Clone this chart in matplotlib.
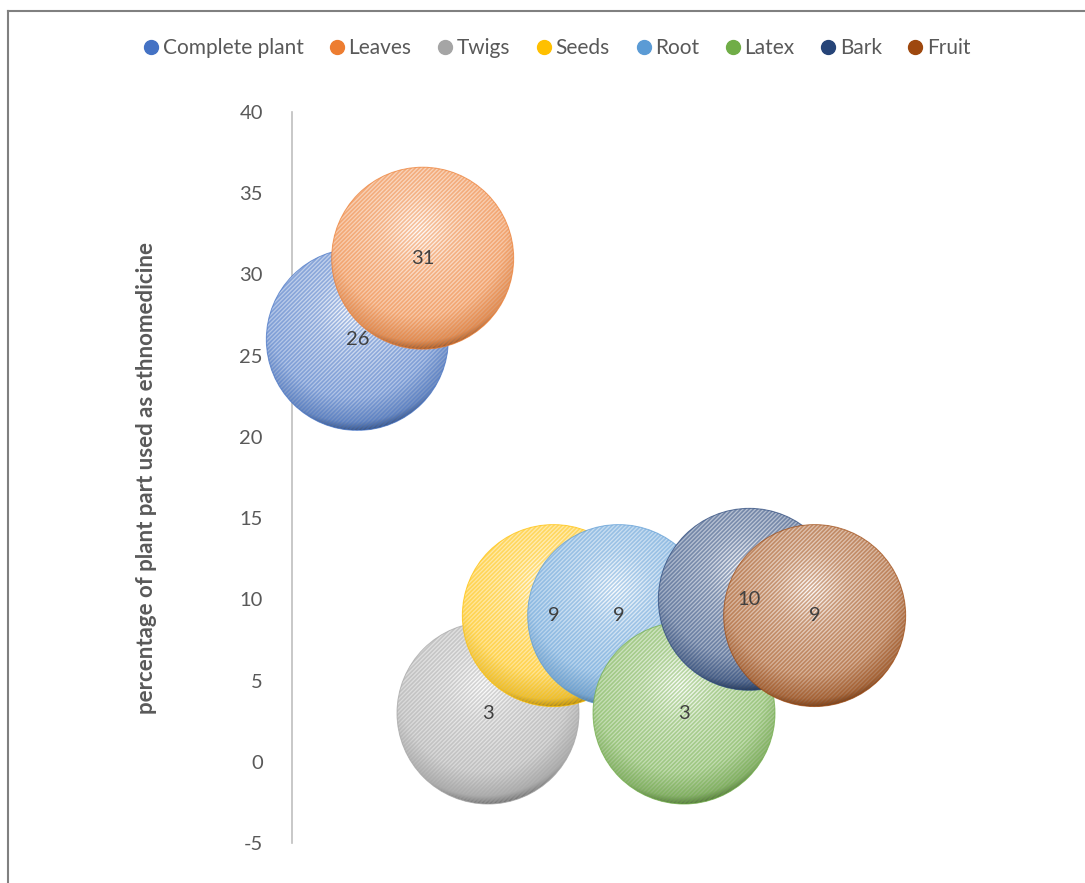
import numpy as np
import matplotlib
matplotlib.use("Agg")
import matplotlib.pyplot as plt
from matplotlib.patches import Ellipse
from matplotlib.lines import Line2D
from matplotlib.colors import to_rgb

plt.rcParams['font.family'] = ['Lato', 'DejaVu Sans']
plt.rcParams['axes.unicode_minus'] = False
plt.rcParams['hatch.linewidth'] = 1.2

# Datos de la grafica (porcentaje por parte de la planta)
partes = ['Complete plant', 'Leaves', 'Twigs', 'Seeds', 'Root', 'Latex', 'Bark', 'Fruit']
posicion_x = [1, 2, 3, 4, 5, 6, 7, 8]
porcentaje = [26, 31, 3, 9, 9, 3, 10, 9]
colores = ['#4472C4', '#ED7D31', '#A5A5A5', '#FFC000', '#5B9BD5', '#70AD47', '#264478', '#9E480E']
yticks = [-5, 0, 5, 10, 15, 20, 25, 30, 35, 40]

gris_texto = '#595959'
radio_px = 91  # radio de cada burbuja en pixeles

fig = plt.figure(figsize=(10.85, 8.83), dpi=100)
ax = fig.add_axes([292 / 1085, 1 - 843 / 883, (880 - 292) / 1085, (843 - 112) / 883])
ax.set_xlim(0, 9)
ax.set_ylim(-5, 40)

# Conversion de pixeles a unidades de datos
bbox = ax.get_window_extent()
px_x = bbox.width / 9
px_y = bbox.height / 45
w = 2 * radio_px / px_x
h = 2 * radio_px / px_y

# Gradiente tipo esfera
n = 200
u, v = np.meshgrid(np.linspace(-1, 1, n), np.linspace(-1, 1, n))
d = np.sqrt((u + 0.05) ** 2 + (v - 0.3) ** 2) / 1.35
d = np.clip(d, 0, 1)


def esfera(color):
    base = np.array(to_rgb(color))
    blanco = np.ones(3)
    puntos = [0.0, 0.3, 0.7, 0.9, 1.0]
    cols = [blanco, 0.25 * base + 0.75 * blanco, 0.42 * base + 0.58 * blanco,
            0.6 * base + 0.3 * blanco, base * 0.5]
    img = np.zeros((n, n, 3))
    for k in range(3):
        img[..., k] = np.interp(d, puntos, [c[k] for c in cols])
    return img


for i, (x, y, c) in enumerate(zip(posicion_x, porcentaje, colores)):
    z = 2 + 3 * i
    borde = Ellipse((x, y), w, h, facecolor='none', edgecolor='none', clip_on=False)
    ax.add_patch(borde)
    im = ax.imshow(esfera(c), origin='lower', aspect='auto', interpolation='bilinear',
                   extent=[x - w / 2, x + w / 2, y - h / 2, y + h / 2], zorder=z)
    im.set_clip_path(borde)
    im.set_clip_box(fig.bbox)
    ax.add_patch(Ellipse((x, y), w, h, facecolor='none', edgecolor=c, lw=0,
                         hatch='////////', alpha=0.45, zorder=z + 1, clip_on=False))
    ax.add_patch(Ellipse((x, y), w, h, facecolor='none', edgecolor=c, lw=0.7,
                         alpha=0.7, zorder=z + 2, clip_on=False))

for x, y in zip(posicion_x, porcentaje):
    ax.text(x, y, str(y), ha='center', va='center', fontsize=14.5, color='#404040', zorder=100)

ax.set_xlim(0, 9)
ax.set_ylim(-5, 40)
ax.set_yticks(yticks)
ax.set_xticks([])
ax.tick_params(axis='y', length=0, labelsize=14.5, labelcolor=gris_texto, pad=21)
for s in ['top', 'right', 'bottom']:
    ax.spines[s].set_visible(False)
ax.spines['left'].set_color('#BFBFBF')
ax.spines['left'].set_linewidth(1.2)
ax.spines['left'].set_zorder(1)
ax.set_ylabel('percentage of plant part used as ethnomedicine', fontsize=16,
              fontweight='bold', color=gris_texto)
ax.yaxis.set_label_coords((157 - 292) / (880 - 292), 0.5)

# Leyenda
handles = [Line2D([], [], marker='o', ls='none', markersize=10, markerfacecolor=c,
                  markeredgecolor=c, label=p) for p, c in zip(partes, colores)]
fig.legend(handles=handles, loc='center', bbox_to_anchor=(0.512, 1 - 48 / 883), ncol=8,
           frameon=False, fontsize=15, handletextpad=0.05, columnspacing=1.12,
           handlelength=1.0, labelcolor=gris_texto)

# Borde del grafico
fig.add_artist(Line2D([8 / 1085, 1], [1 - 10.5 / 883, 1 - 10.5 / 883], color='#808080', lw=1.5))
fig.add_artist(Line2D([8 / 1085, 8 / 1085], [0, 1 - 10.5 / 883], color='#808080', lw=1.5))

fig.savefig('out.png', dpi=100)
plt.close()
